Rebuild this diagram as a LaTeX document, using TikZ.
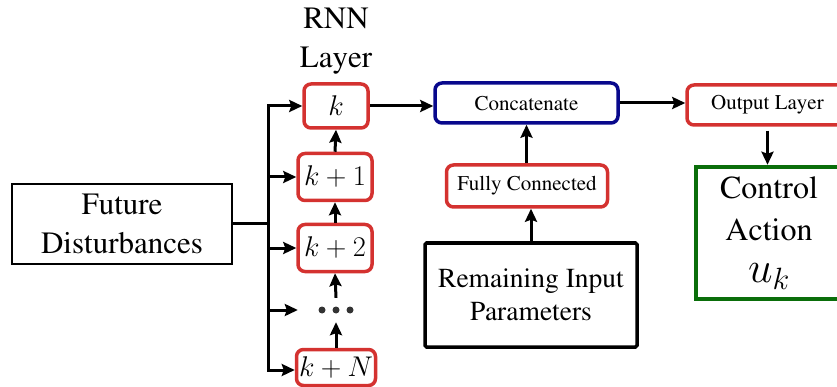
\RequirePackage{fix-cm}
\documentclass[tikz,border=0pt]{standalone}
\usepackage[T1]{fontenc}
\renewcommand{\rmdefault}{ptm}
\usetikzlibrary{arrows.meta}
\definecolor{boxred}{RGB}{212,50,48}
\definecolor{boxblue}{RGB}{8,8,140}
\definecolor{boxgreen}{RGB}{10,110,10}
\tikzset{
  redbox/.style={draw=boxred,line width=3.5pt,rounded corners=7pt,inner sep=0pt,align=center},
  bluebox/.style={draw=boxblue,line width=3.5pt,rounded corners=7pt,inner sep=0pt,align=center},
  arr/.style={line width=3pt,-{Stealth[length=13pt,width=12pt,inset=2pt]}},
  ln/.style={line width=3pt},
  bigtxt/.style={font=\rmfamily\fontsize{31}{39}\selectfont},
  midtxt/.style={font=\rmfamily\fontsize{27.5}{33}\selectfont},
  smalltxt/.style={font=\rmfamily\fontsize{21}{25}\selectfont},
  mathtxt/.style={font=\fontsize{28.5}{30}\selectfont},
}
\begin{document}
\begin{tikzpicture}[x=1pt,y=-1pt]
\useasboundingbox (0,0) rectangle (837,387);
\clip (0,0) rectangle (837,387);
% left input
\node[draw,line width=1.5pt,minimum width=220,minimum height=80,inner sep=0pt,align=center,bigtxt] (fd) at (122,224) {Future\\Disturbances};
% RNN label
\node[bigtxt,align=center] (rnnlbl) at (336,41) {RNN\\Layer};
% RNN nodes
\node[redbox,mathtxt,minimum width=64,minimum height=44] (k0) at (336,106) {$k$};
\node[redbox,mathtxt,minimum width=74,minimum height=47] (k1) at (335,177) {$k+1$};
\node[redbox,mathtxt,minimum width=74,minimum height=47] (k2) at (335,248) {$k+2$};
\node[minimum width=76,minimum height=24,inner sep=0pt] (dots) at (336,310) {};
\fill[black!80] (dots.center) ++(-14,0) circle (3.5) (dots.center) circle (3.5) (dots.center) ++(14,0) circle (3.5);
\node[redbox,mathtxt,minimum width=79,minimum height=36] (kN) at (336,367.5) {$k+N$};
% bus
\coordinate (bustop) at (268,106);
\coordinate (busbot) at (268,370);
\draw[ln] (fd.east) -- (fd.east -| bustop);
\draw[ln,line cap=rect] (bustop) -- (busbot);
\draw[arr] (bustop) -- (k0.west);
\draw[arr] (k1.west -| bustop) -- (k1.west);
\draw[arr] (k2.west -| bustop) -- (k2.west);
\draw[arr] (dots.west -| bustop) -- (dots.west);
\draw[arr] (busbot) -- (busbot -| kN.west);
% vertical chain
\draw[arr] (k1.north) -- (k0.south);
\draw[arr] (k2.north) -- (k1.south);
\draw[arr] (dots.north) -- (k2.south);
\draw[arr] (kN.north) -- (dots.south);
% right part
\node[bluebox,smalltxt,minimum width=183,minimum height=40] (cat) at (526.5,103) {Concatenate};
\node[redbox,smalltxt,minimum width=161,minimum height=42] (fc) at (527,186) {Fully Connected};
\node[draw,line width=3.5pt,rounded corners=1.5pt,minimum width=212,minimum height=104,inner sep=0pt,align=center,midtxt] (rip) at (531,295) {Remaining Input\\Parameters};
\node[redbox,smalltxt,minimum width=161,minimum height=40] (out) at (767.5,105) {Output Layer};
\node[draw=boxgreen,line width=4.5pt,minimum width=146,minimum height=132,inner sep=0pt,align=center,font=\rmfamily\fontsize{32}{42}\selectfont] (ctrl) at (769,233) {Control\\Action\\[0pt]{\fontsize{44}{40}\selectfont$u_k$}};
\draw[arr] (k0.east) -- (k0.east -| cat.west);
\draw[arr] (cat.east) -- (cat.east -| out.west);
\draw[arr] (fc.north -| cat.south) -- (cat.south);
\draw[arr] (rip.north) -- (rip.north |- fc.south);
\draw[arr] ([yshift=-4pt]out.south) -- (out.south |- ctrl.north);
\end{tikzpicture}
\end{document}
